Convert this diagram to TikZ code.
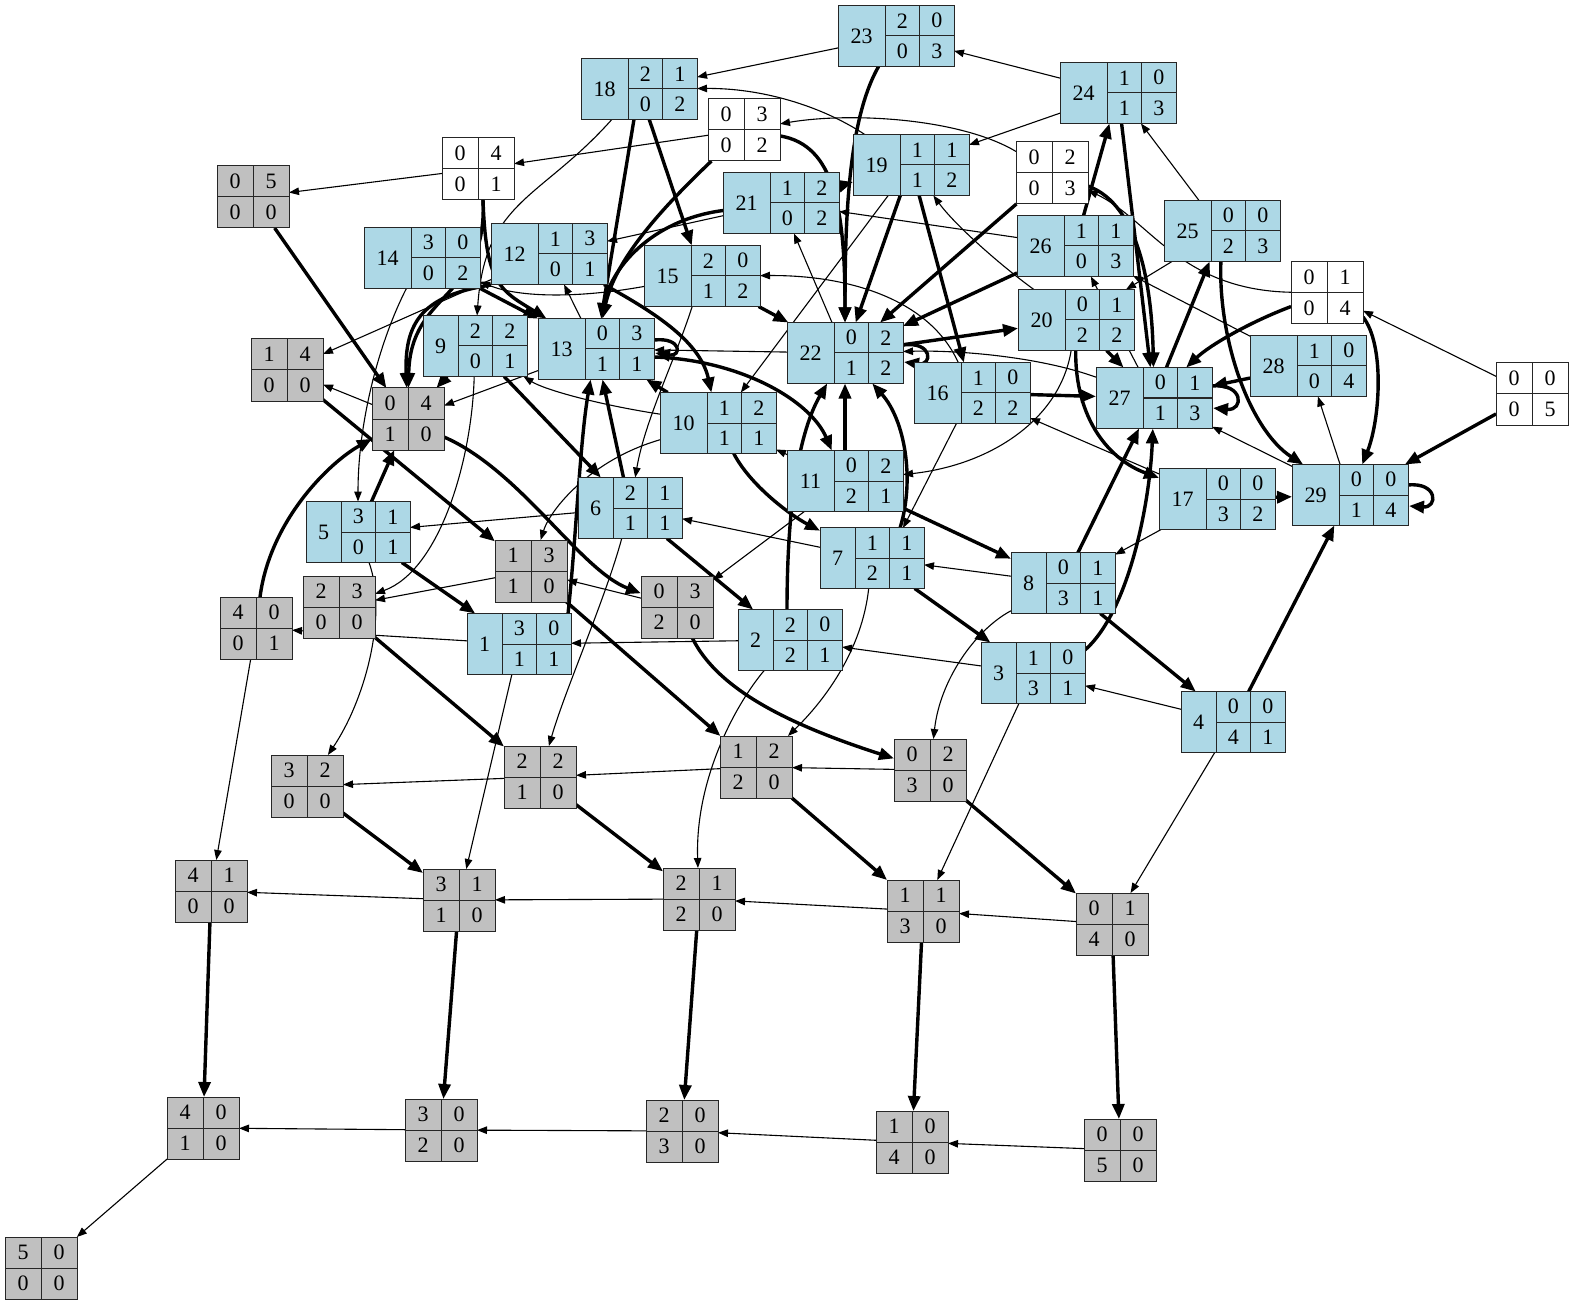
\documentclass[tikz,border=0pt]{standalone}
\usepackage{fontspec}
\setmainfont{Liberation Serif}
\usetikzlibrary{arrows.meta,backgrounds}
\definecolor{lblue}{RGB}{173,216,230}
\definecolor{lgray}{RGB}{192,192,192}
\def\getd#1#2#3#4{\def\da{#1}\def\db{#2}\def\dc{#3}\def\dd{#4}}
\newcommand\bstate[4]{%
  \getd#1%
  \ifnum#2<10 \def\gx{-17}\def\bw{104pt}\else\def\gx{-11}\def\bw{116pt}\fi
  \node[stbox,fill=lblue,minimum width=\bw,minimum height=61pt] (s#1) at (#3,#4) {};
  \draw[gline] ([shift={(\gx,-30.5)}]s#1.center) -- ([shift={(\gx,30.5)}]s#1.center);
  \draw[gline] ([shift={(\gx+34.5,-30.5)}]s#1.center) -- ([shift={(\gx+34.5,30.5)}]s#1.center);
  \draw[gline] ([shift={(\gx,0)}]s#1.center) -- (s#1.east);
  \node[dtxt] (s#1n) at ([shift={(-34.5,0)}]s#1.center) {#2};
  \node[dtxt] (s#1a) at ([shift={(\gx+17.25,-15.25)}]s#1.center) {\da};
  \node[dtxt] (s#1b) at ([shift={(\gx+51.75,-15.25)}]s#1.center) {\db};
  \node[dtxt] (s#1c) at ([shift={(\gx+17.25,15.25)}]s#1.center) {\dc};
  \node[dtxt] (s#1d) at ([shift={(\gx+51.75,15.25)}]s#1.center) {\dd};
}
\newcommand\gstate[4]{%
  \getd#1%
  \node[stbox,#4,minimum width=72pt,minimum height=62pt] (s#1) at (#2,#3) {};
  \draw[gline] (s#1.north) -- (s#1.south);
  \draw[gline] (s#1.west) -- (s#1.east);
  \node[dtxt] (s#1a) at ([shift={(-18,-15.5)}]s#1.center) {\da};
  \node[dtxt] (s#1b) at ([shift={(18,-15.5)}]s#1.center) {\db};
  \node[dtxt] (s#1c) at ([shift={(-18,15.5)}]s#1.center) {\dc};
  \node[dtxt] (s#1d) at ([shift={(18,15.5)}]s#1.center) {\dd};
}
\begin{document}
\begin{tikzpicture}[x=1pt,y=-1pt,
  stbox/.style={draw=black!85,line width=1pt,inner sep=0pt,outer sep=0pt},
  gfill/.style={fill=lgray},
  wfill/.style={fill=white},
  gline/.style={draw=black!85,line width=1pt},
  dtxt/.style={inner sep=0pt,font=\fontsize{22}{26}\selectfont},
  en/.style={line width=1.1pt,-{Triangle[length=10pt,width=7.5pt]}},
  ek/.style={line width=3.4pt,-{Triangle[length=15pt,width=12pt]}}]
\useasboundingbox (0,0) rectangle (1574,1305);
% blue states
\bstate{3011}{1}{519}{644}
\bstate{2021}{2}{790}{640}
\bstate{1031}{3}{1033}{673}
\bstate{0041}{4}{1233}{722}
\bstate{3101}{5}{358}{532}
\bstate{2111}{6}{630}{508}
\bstate{1121}{7}{872}{558}
\bstate{0131}{8}{1063}{583}
\bstate{2201}{9}{475}{346}
\bstate{1211}{10}{718}{423}
\bstate{0221}{11}{845}{481}
\bstate{1301}{12}{549}{254}
\bstate{0311}{13}{596}{349}
\bstate{3002}{14}{422}{258}
\bstate{2012}{15}{702}{276}
\bstate{1022}{16}{972}{393}
\bstate{0032}{17}{1217}{499}
\bstate{2102}{18}{639}{89}
\bstate{1112}{19}{911}{165}
\bstate{0122}{20}{1076}{320}
\bstate{1202}{21}{781}{203}
\bstate{0212}{22}{845}{353}
\bstate{2003}{23}{896}{36}
\bstate{1013}{24}{1118}{93}
\bstate{0023}{25}{1222}{231}
\bstate{1103}{26}{1075}{246}
\bstate{0113}{27}{1154}{398}
\bstate{1004}{28}{1308}{366}
\bstate{0014}{29}{1350}{495}
% white states
\gstate{0401}{478}{169}{wfill}
\gstate{0302}{744}{130}{wfill}
\gstate{0203}{1052}{173}{wfill}
\gstate{0104}{1327}{293}{wfill}
\gstate{0005}{1532}{394}{wfill}
% gray states
\gstate{0500}{253}{197}{gfill}
\gstate{1400}{287}{370}{gfill}
\gstate{0410}{408}{419}{gfill}
\gstate{2300}{339}{607}{gfill}
\gstate{1310}{531}{571}{gfill}
\gstate{0320}{677}{607}{gfill}
\gstate{4001}{256}{628}{gfill}
\gstate{3200}{307}{786}{gfill}
\gstate{2210}{540}{777}{gfill}
\gstate{1220}{756}{767}{gfill}
\gstate{0230}{930}{770}{gfill}
\gstate{4100}{211}{891}{gfill}
\gstate{3110}{459}{900}{gfill}
\gstate{2120}{699}{899}{gfill}
\gstate{1130}{923}{911}{gfill}
\gstate{0140}{1112}{924}{gfill}
\gstate{4010}{203}{1128}{gfill}
\gstate{3020}{441}{1130}{gfill}
\gstate{2030}{682}{1131}{gfill}
\gstate{1040}{912}{1142}{gfill}
\gstate{0050}{1120}{1150}{gfill}
\gstate{5000}{41}{1268}{gfill}
\begin{pgfonlayer}{background}
% gray part
\draw[ek] (s4100) -- (s4010);
\draw[ek] (s3110) -- (s3020);
\draw[ek] (s2120) -- (s2030);
\draw[ek] (s1130) -- (s1040);
\draw[ek] (s0140) -- (s0050);
\draw[en] (s3110) -- (s4100);
\draw[en] (s2120) -- (s3110);
\draw[en] (s1130) -- (s2120);
\draw[en] (s0140) -- (s1130);
\draw[en] (s3020) -- (s4010);
\draw[en] (s2030) -- (s3020);
\draw[en] (s1040) -- (s2030);
\draw[en] (s0050) -- (s1040);
\draw[en] (s4010) -- (s5000);
\draw[ek] (s3200) -- (s3110);
\draw[ek] (s2210) -- (s2120);
\draw[ek] (s1220) -- (s1130);
\draw[ek] (s0230) -- (s0140);
\draw[en] (s2210) -- (s3200);
\draw[en] (s1220) -- (s2210);
\draw[en] (s0230) -- (s1220);
\draw[en] (s4001) -- (s4100);
\draw[ek] (s2300) -- (s2210);
\draw[ek] (s1310) -- (s1220);
\draw[ek] (s0320) .. controls (718,690) and (790,725) .. (s0230);
\draw[en] (s1310) -- (s2300);
\draw[en] (s0320) -- (s1310);
\draw[en] (s0410) -- (s1400);
\draw[ek] (s0500) -- (s0410);
\draw[ek] (s1400) -- (s1310);
\draw[ek] ([shift={(36,18)}]s0410.center) .. controls (520,470) and (580,570) .. (s0320);
\draw[ek] (s4001) .. controls (270,520) and (330,462) .. (s0410);
% 5
\draw[ek] (s3101) -- (s0410);
\draw[en] (s3101) .. controls (388,615) and (365,700) .. (s3200);
\draw[ek] (s3101) -- (s3011);
% 9
\draw[en] (s2201) .. controls (472,460) and (440,570) .. (s2300);
\draw[ek] (s2201) -- (s2111);
\draw[ek] (s2201) -- (s0410);
% 6
\draw[en] (s2111) -- (s3101);
\draw[en] (s2111) .. controls (605,600) and (565,690) .. (s2210);
\draw[ek] (s2111) -- (s2021);
\draw[ek] (s2111) -- (s0311);
% 1
\draw[en] (s3011) -- (s4001);
\draw[en] (s3011) -- (s3110);
\draw[ek] ([shift={(49,-30)}]s3011.center) .. controls (576,540) and (580,440) .. (s0311);
% 2
\draw[en] (s2021) -- (s3011);
\draw[en] (s2021) .. controls (735,705) and (695,780) .. (s2120);
\draw[ek] ([shift={(-3,-30)}]s2021.center) .. controls (787,500) and (800,430) .. (s0212);
% 3
\draw[en] (s1031) -- (s2021);
\draw[en] (s1031) -- (s1130);
\draw[ek] ([shift={(52,-23)}]s1031.center) .. controls (1130,610) and (1150,500) .. (s0113);
% 4
\draw[en] (s0041) -- (s1031);
\draw[en] (s0041) -- (s0140);
\draw[ek] (s0041) -- (s0014);
% 7
\draw[en] (s1121) -- (s2111);
\draw[en] (s1121) .. controls (862,650) and (825,700) .. (s1220);
\draw[ek] (s1121) -- (s1031);
\draw[ek] ([shift={(28,-30)}]s1121.center) .. controls (915,480) and (905,420) .. (s0212);
% 8
\draw[en] (s0131) -- (s1121);
\draw[en] (s0131) .. controls (975,630) and (940,680) .. (s0230);
\draw[ek] (s0131) -- (s0041);
\draw[ek] (s0131) -- (s0113);
% 10
\draw[en] (s1211) .. controls (600,405) and (545,390) .. (s2201);
\draw[en] (s1211) .. controls (590,460) and (550,510) .. (s1310);
\draw[ek] (s1211) .. controls (750,485) and (790,515) .. (s1121);
\draw[ek] (s1211) -- (s0311);
% 11
\draw[en] (s0221) -- (s1211);
\draw[en] (s0221) -- (s0320);
\draw[ek] (s0221) -- (s0131);
\draw[ek] (s0221) -- (s0212);
% 12
\draw[en] (s1301) -- (s1400);
\draw[ek] (s1301) .. controls (650,310) and (700,340) .. (s1211);
\draw[ek] ([shift={(-58,31)}]s1301.center) .. controls (425,295) and (404,320) .. (s0410);
% 13
\draw[en] (s0311) -- (s1301);
\draw[en] (s0311) -- (s0410);
\draw[ek] ([shift={(58,8)}]s0311.center) .. controls (740,360) and (810,400) .. (s0221);
\draw[ek] ([shift={(58,-9)}]s0311.center) .. controls ([shift={(86,-12)}]s0311.center) and ([shift={(86,8)}]s0311.center) .. ([shift={(59,4)}]s0311.center);
% 14
\draw[en] (s3002) .. controls (380,340) and (358,420) .. (s3101);
\draw[ek] (s3002) -- (s0311);
% 15
\draw[en] (s2012) .. controls (580,298) and (520,298) .. (s3002);
\draw[en] (s2012) .. controls (675,360) and (645,420) .. (s2111);
\draw[ek] (s2012) -- (s0212);
% 16
\draw[en] (s1022) .. controls (930,300) and (850,275) .. (s2012);
\draw[en] (s1022) -- ([shift={(31,-30)}]s1121.center);
\draw[ek] (s1022) -- (s0113);
% 17
\draw[en] (s0032) -- (s1022);
\draw[en] (s0032) -- (s0131);
\draw[ek] (s0032) -- (s0014);
% 18
\draw[en] (s2102) .. controls (540,200) and (485,200) .. (s2201);
\draw[ek] (s2102) -- (s2012);
\draw[ek] (s2102) -- (s0311);
% 19
\draw[en] (s1112) .. controls (820,105) and (760,88) .. (s2102);
\draw[en] (s1112) -- (s1211);
\draw[ek] (s1112) -- (s1022);
\draw[ek] (s1112) -- (s0212);
% 20
\draw[en] (s0122) .. controls (1000,265) and (955,225) .. (s1112);
\draw[en] (s0122) .. controls (1060,420) and (990,465) .. (s0221);
\draw[ek] (s0122) .. controls (1075,420) and (1110,460) .. (s0032);
\draw[ek] (s0122) -- (s0113);
% 21
\draw[en] (s1202) -- (s1301);
\draw[ek] (s1202) -- (s1112);
\draw[ek] (s1202) .. controls (650,220) and (610,270) .. (s0311);
% 22
\draw[en] (s0212) -- (s1202);
\draw[en] (s0212) -- (s0311);
\draw[ek] (s0212) -- (s0122);
\draw[ek] ([shift={(58,-8)}]s0212.center) .. controls ([shift={(88,-12)}]s0212.center) and ([shift={(88,13)}]s0212.center) .. ([shift={(59,9)}]s0212.center);
% 23
\draw[en] (s2003) -- (s2102);
\draw[ek] (s2003) .. controls (848,120) and (845,220) .. (s0212);
% 24
\draw[en] (s1013) -- (s2003);
\draw[en] (s1013) -- (s1112);
\draw[ek] (s1013) -- (s0113);
% 25
\draw[en] (s0023) -- (s1013);
\draw[en] (s0023) -- (s0122);
\draw[ek] (s0023) .. controls (1218,340) and (1250,430) .. (s0014);
% 26
\draw[en] (s1103) -- (s1202);
\draw[ek] (s1103) -- (s1013);
\draw[ek] (s1103) -- (s0212);
% 27
\draw[en] (s0113) -- (s1103);
\draw[en] (s0113) .. controls (1040,357) and (960,350) .. (s0212);
\draw[ek] (s0113) -- (s0023);
\draw[ek] ([shift={(58,-12)}]s0113.center) .. controls ([shift={(90,-15)}]s0113.center) and ([shift={(90,13)}]s0113.center) .. ([shift={(59,10)}]s0113.center);
% 28
\draw[en] (s1004) -- (s1103);
\draw[ek] (s1004) -- (s0113);
% 29
\draw[en] (s0014) -- (s1004);
\draw[en] (s0014) -- (s0113);
\draw[ek] ([shift={(58,-10)}]s0014.center) .. controls ([shift={(88,-13)}]s0014.center) and ([shift={(88,13)}]s0014.center) .. ([shift={(59,11)}]s0014.center);
% white
\draw[en] (s0401) -- (s0500);
\draw[ek] ([shift={(5,31)}]s0401.center) .. controls (486,285) and (500,290) .. (s0311);
\draw[ek] ([shift={(5,31)}]s0401.center) .. controls (488,300) and (410,290) .. (s0410);
\draw[en] (s0302) -- (s0401);
\draw[ek] (s0302) .. controls (835,145) and (845,210) .. (s0212);
\draw[ek] (s0302) .. controls (660,210) and (615,260) .. (s0311);
\draw[en] (s0203) .. controls (960,118) and (850,112) .. (s0302);
\draw[ek] (s0203) .. controls (1140,205) and (1152,290) .. (s0113);
\draw[ek] (s0203) -- (s0212);
\draw[en] (s0104) .. controls (1180,290) and (1150,220) .. (s0203);
\draw[ek] ([shift={(36,24)}]s0104.center) .. controls (1385,345) and (1380,420) .. (s0014);
\draw[ek] (s0104) .. controls (1250,322) and (1210,345) .. (s0113);
\draw[en] (s0005) -- (s0104);
\draw[ek] (s0005) -- (s0014);
\end{pgfonlayer}
\end{tikzpicture}
\end{document}
